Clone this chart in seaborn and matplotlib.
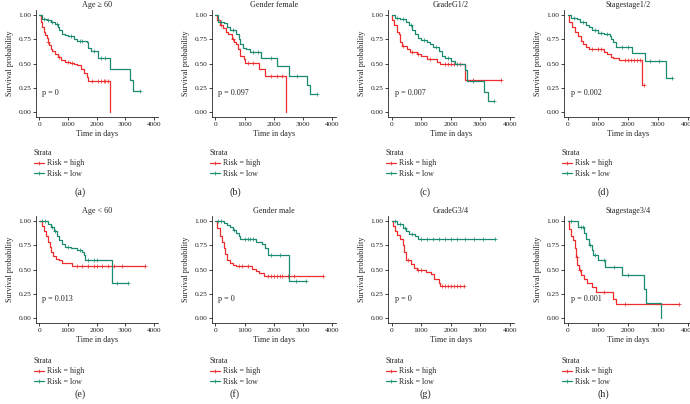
import matplotlib
matplotlib.use('Agg')
import matplotlib.pyplot as plt
from matplotlib.lines import Line2D
import numpy as np
import seaborn as sns

# ---- data (time in days, survival probability) ----
a_high_t = [0, 50, 100, 150, 200, 250, 300, 350, 400, 450, 550, 650, 750, 900, 1050, 1200, 1300, 1450, 1550, 1650, 1700, 2450]
a_high_s = [1, 0.93, 0.88, 0.83, 0.79, 0.76, 0.72, 0.69, 0.65, 0.63, 0.60, 0.57, 0.54, 0.52, 0.51, 0.50, 0.48, 0.44, 0.40, 0.36, 0.32, 0.0]
a_high_c = [300, 700, 1000, 1150, 1850, 2050, 2150, 2250, 2300, 2380]
a_low_t = [0, 100, 250, 400, 550, 650, 700, 800, 900, 1000, 1200, 1300, 1650, 1700, 1800, 2050, 2480, 3150, 3250, 3500]
a_low_s = [1, 0.96, 0.95, 0.93, 0.91, 0.88, 0.85, 0.80, 0.79, 0.78, 0.75, 0.73, 0.72, 0.66, 0.63, 0.56, 0.44, 0.33, 0.22, 0.22]
a_low_c = [150, 300, 450, 600, 1100, 1400, 1500, 1900, 2150, 2300, 3500]

b_high_t = [0, 50, 150, 260, 350, 430, 550, 650, 720, 780, 830, 970, 1000, 1500, 1690, 2430]
b_high_s = [1, 0.95, 0.90, 0.87, 0.83, 0.80, 0.75, 0.72, 0.70, 0.65, 0.58, 0.55, 0.51, 0.44, 0.37, 0.0]
b_high_c = [200, 600, 1100, 1300, 1900, 2100, 2300]
b_low_t = [0, 100, 300, 400, 500, 700, 800, 850, 950, 1050, 1200, 1560, 2130, 2520, 3150, 3260, 3480]
b_low_s = [1, 0.93, 0.92, 0.88, 0.85, 0.80, 0.75, 0.70, 0.66, 0.65, 0.62, 0.56, 0.47, 0.37, 0.28, 0.19, 0.19]
b_low_c = [200, 600, 1300, 1450, 1900, 2800, 3480]

c_high_t = [0, 30, 80, 170, 260, 280, 340, 510, 620, 850, 1010, 1200, 1520, 1630, 2480, 3700]
c_high_s = [1, 0.95, 0.90, 0.83, 0.80, 0.72, 0.68, 0.65, 0.62, 0.60, 0.58, 0.55, 0.52, 0.50, 0.33, 0.33]
c_high_c = [400, 700, 900, 1300, 1800, 1900, 2000, 2100, 2300, 2750, 3700]
c_low_t = [0, 100, 300, 500, 600, 700, 800, 900, 1000, 1200, 1300, 1400, 1600, 1700, 1800, 2000, 2150, 2480, 2540, 3130, 3260, 3450]
c_low_s = [1, 0.97, 0.96, 0.93, 0.90, 0.85, 0.80, 0.76, 0.74, 0.72, 0.70, 0.67, 0.63, 0.58, 0.56, 0.53, 0.50, 0.43, 0.32, 0.21, 0.11, 0.11]
c_low_c = [200, 400, 650, 1100, 1500, 1900, 2200, 2750, 3450]

d_high_t = [0, 50, 150, 250, 350, 450, 500, 600, 700, 1200, 1300, 1450, 1500, 1700, 2470, 2550]
d_high_s = [1, 0.93, 0.88, 0.83, 0.78, 0.73, 0.70, 0.67, 0.65, 0.62, 0.60, 0.57, 0.56, 0.54, 0.28, 0.28]
d_high_c = [800, 1000, 1100, 1900, 2000, 2100, 2200, 2300, 2400, 2550]
d_low_t = [0, 100, 300, 400, 600, 700, 800, 1000, 1200, 1400, 1450, 1500, 1600, 2150, 2560, 3260, 3480]
d_low_s = [1, 0.97, 0.96, 0.93, 0.90, 0.88, 0.85, 0.82, 0.80, 0.78, 0.75, 0.72, 0.67, 0.61, 0.53, 0.35, 0.35]
d_low_c = [200, 500, 900, 1100, 1300, 1800, 2000, 2750, 3050, 3480]

e_high_t = [0, 80, 150, 230, 300, 360, 420, 480, 580, 700, 800, 1150, 3700]
e_high_s = [1, 0.95, 0.90, 0.85, 0.78, 0.73, 0.68, 0.64, 0.61, 0.60, 0.57, 0.54, 0.54]
e_high_c = [1300, 1500, 1700, 1900, 2000, 2200, 2400, 2600, 2900, 3700]
e_low_t = [0, 300, 400, 500, 600, 700, 800, 900, 1100, 1300, 1500, 1550, 1600, 2530, 3100]
e_low_s = [1, 0.97, 0.94, 0.90, 0.85, 0.80, 0.76, 0.73, 0.72, 0.70, 0.68, 0.65, 0.60, 0.36, 0.36]
e_low_c = [100, 200, 450, 550, 1000, 1400, 1700, 1900, 2000, 2700, 3100]

f_high_t = [0, 50, 150, 220, 280, 320, 400, 500, 600, 700, 1250, 1400, 1500, 1650, 3700]
f_high_s = [1, 0.93, 0.85, 0.78, 0.72, 0.66, 0.60, 0.57, 0.55, 0.54, 0.51, 0.48, 0.46, 0.43, 0.43]
f_high_c = [800, 900, 1100, 1800, 1900, 2000, 2100, 2200, 2300, 2500, 2700, 3700]
f_low_t = [0, 300, 400, 500, 600, 700, 800, 850, 1400, 1600, 1700, 1800, 2520, 3100]
f_low_s = [1, 0.98, 0.96, 0.94, 0.91, 0.88, 0.85, 0.82, 0.78, 0.76, 0.72, 0.65, 0.38, 0.38]
f_low_c = [100, 200, 650, 1000, 1100, 1200, 1300, 1900, 2200, 2750, 3100]

g_high_t = [0, 50, 100, 200, 300, 380, 430, 500, 650, 750, 850, 1150, 1350, 1450, 1600, 1650, 2450]
g_high_s = [1, 0.95, 0.90, 0.86, 0.82, 0.75, 0.68, 0.60, 0.56, 0.52, 0.50, 0.47, 0.45, 0.40, 0.36, 0.33, 0.33]
g_high_c = [550, 900, 1000, 1700, 1800, 1900, 2000, 2100, 2200, 2300, 2450]
g_low_t = [0, 200, 400, 500, 600, 800, 900, 3500]
g_low_s = [1, 0.97, 0.93, 0.90, 0.87, 0.85, 0.82, 0.82]
g_low_c = [100, 300, 450, 700, 1000, 1200, 1400, 1600, 1800, 2000, 2200, 2500, 2800, 3100, 3500]

h_high_t = [0, 60, 120, 180, 230, 280, 320, 380, 450, 550, 650, 800, 950, 1500, 1600, 3700]
h_high_s = [1, 0.92, 0.85, 0.80, 0.72, 0.63, 0.55, 0.50, 0.44, 0.40, 0.36, 0.32, 0.27, 0.20, 0.14, 0.14]
h_high_c = [300, 400, 1200, 1900, 3700]
h_low_t = [0, 350, 560, 600, 700, 800, 850, 1000, 1250, 1800, 2550, 2600, 3100]
h_low_s = [1, 0.94, 0.88, 0.82, 0.75, 0.70, 0.65, 0.60, 0.53, 0.44, 0.30, 0.15, 0.0]
h_low_c = [100, 450, 500, 750, 900, 1200, 1550, 2000]

titles = ['Age \u2265 60', 'Gender female', 'GradeG1/2', 'Stagestage1/2',
          'Age < 60', 'Gender male', 'GradeG3/4', 'Stagestage3/4']
pvals = ['p = 0', 'p = 0.097', 'p = 0.007', 'p = 0.002',
         'p = 0.013', 'p = 0', 'p = 0', 'p = 0.001']
panel_labels = ['(a)', '(b)', '(c)', '(d)', '(e)', '(f)', '(g)', '(h)']
strata_labels = ['Risk = high', 'Risk = low']

curves = [
    (a_high_t, a_high_s, a_high_c, a_low_t, a_low_s, a_low_c),
    (b_high_t, b_high_s, b_high_c, b_low_t, b_low_s, b_low_c),
    (c_high_t, c_high_s, c_high_c, c_low_t, c_low_s, c_low_c),
    (d_high_t, d_high_s, d_high_c, d_low_t, d_low_s, d_low_c),
    (e_high_t, e_high_s, e_high_c, e_low_t, e_low_s, e_low_c),
    (f_high_t, f_high_s, f_high_c, f_low_t, f_low_s, f_low_c),
    (g_high_t, g_high_s, g_high_c, g_low_t, g_low_s, g_low_c),
    (h_high_t, h_high_s, h_high_c, h_low_t, h_low_s, h_low_c),
]

red = '#ED2D2D'
green = '#1A8A70'

sns.set_style('ticks')
plt.rcParams['font.family'] = ['Liberation Serif', 'DejaVu Serif']
plt.rcParams['axes.linewidth'] = 0.6


def censor_y(t, s, c):
    """ survival value of the step curve at each censor time """
    idx = np.searchsorted(np.array(t), np.array(c), side='right') - 1
    return np.array(s)[idx]


W, H = 690, 404
fig = plt.figure(figsize=(W / 100, H / 100), dpi=100)

# layout in pixels
col_left = [36, 212, 388, 564]
col_width = [122, 124, 126, 128]
row_bottom = [116.9, 322.9]
ax_height = 106.7
label_x = [80, 235, 425, 603]
label_y = [192, 394]
legend_top = [149, 357]

font_size = 5.9
for i in range(8):
    row, col = i // 4, i % 4
    ax = fig.add_axes([col_left[col] / W, 1 - row_bottom[row] / H,
                       col_width[col] / W, ax_height / H])
    ht, hs, hc, lt, ls, lc = curves[i]

    for t, s, c, color in [(ht, hs, hc, red), (lt, ls, lc, green)]:
        sns.lineplot(x=t, y=s, drawstyle='steps-post', color=color,
                     linewidth=0.9, estimator=None, sort=False, ax=ax)
        sns.scatterplot(x=c, y=censor_y(t, s, c), marker='+', color=color,
                        s=9, linewidth=0.5, ax=ax)

    ax.set_xlim(-120, 4140)
    ax.set_ylim(-0.05, 1.05)
    ax.set_xticks([0, 1000, 2000, 3000, 4000])
    ax.set_yticks([0, 0.25, 0.5, 0.75, 1.0])
    ax.set_yticklabels(['0.00', '0.25', '0.50', '0.75', '1.00'])
    ax.tick_params(labelsize=5.3, length=2, width=0.6, pad=1.5, colors='#222222')
    ax.set_xlabel('Time in days', fontsize=font_size, labelpad=2)
    ax.set_ylabel('Survival probability', fontsize=font_size, labelpad=3)
    ax.set_title(titles[i], fontsize=font_size, pad=2.5)
    ax.text(100, 0.20, pvals[i], fontsize=font_size, va='center')
    sns.despine(ax=ax)

    # legend below each panel
    handles = [Line2D([], [], color=red, lw=0.9, marker='+', markersize=3, markeredgewidth=0.5),
               Line2D([], [], color=green, lw=0.9, marker='+', markersize=3, markeredgewidth=0.5)]
    fig.legend(handles, strata_labels, title='Strata', loc='upper left',
               bbox_to_anchor=((col_left[col] - 2) / W, 1 - legend_top[row] / H),
               frameon=False, fontsize=5.7, title_fontsize=5.7, alignment='left',
               labelspacing=0.3, handlelength=1.3, handletextpad=0.4,
               borderpad=0, borderaxespad=0)

    fig.text(label_x[col] / W, 1 - label_y[row] / H, panel_labels[i],
             ha='center', va='center', fontsize=7.2)

fig.savefig('out.png', dpi=100)
